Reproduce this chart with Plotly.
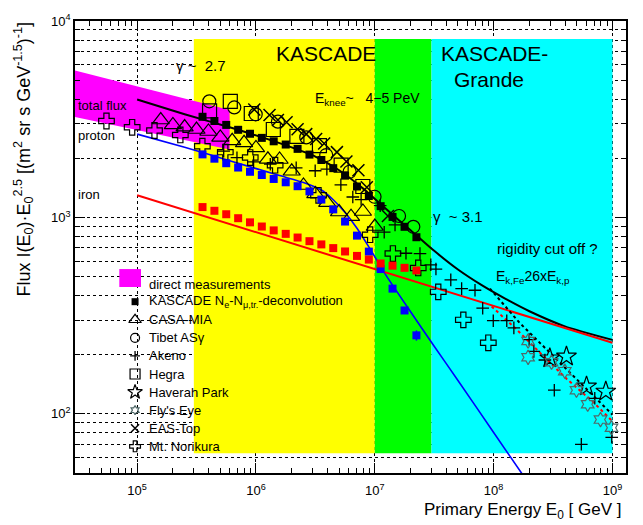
import math
import plotly.graph_objects as go

# ---------------------------------------------------------------------------
# Energies in GeV, fluxes multiplied by E^2.5  [(m^2 sr s GeV^-1.5)^-1]
# ---------------------------------------------------------------------------

# KASCADE Ne-Nmu unfolding (all particle, proton, iron)
kascade_E = [3.55e5, 4.47e5, 5.62e5, 7.08e5, 8.91e5, 1.12e6, 1.41e6, 1.78e6, 2.24e6, 2.82e6,
             3.55e6, 4.47e6, 5.62e6, 7.08e6, 8.91e6, 1.12e7, 1.41e7, 1.78e7, 2.24e7]
kascade_all = [3254, 3097, 2958, 2793, 2667, 2541, 2441, 2350, 2234, 2089,
               1961, 1782, 1632, 1437, 1285, 1141, 1006, 896, 793]
kascade_p = [2094, 1991, 1888, 1795, 1708, 1644, 1570, 1510, 1442, 1357,
             1233, 1099, 953, 808, 670, 546, 434, 336, 251]
kascade_p_err = [0] * 18 + [15]
kascade_fe = [1129, 1081, 1038, 991, 944, 899, 859, 825, 790, 757,
              729, 698, 671, 637, 610, 583, 568, 554, 537]

casa_E = [1.58e5, 2.0e5, 2.51e5, 3.16e5, 3.98e5, 5.01e5, 6.31e5, 7.94e5, 1.0e6, 1.26e6,
          1.58e6, 2.0e6, 2.51e6, 3.16e6, 3.98e6, 5.01e6, 6.31e6, 7.94e6, 1.0e7]
casa_F = [3133, 2958, 2884, 2803, 2739, 2556, 2455, 2399, 2259, 1977,
          1972, 1718, 1454, 1318, 1189, 1066, 1009, 1072, 899]

tibet_E = [4.05e5, 6.57e5, 9.95e5, 1.53e6, 2.65e6, 3.90e6, 6.14e6, 9.95e6, 1.60e7, 2.11e7]
tibet_F = [3899, 3631, 3350, 3073, 2556, 2078, 1708, 1274, 1017, 896]

hegra_E = [4.07e5, 6.08e5, 9.13e5, 1.40e6, 2.21e6, 3.42e6, 5.21e6, 7.93e6]
hegra_F = [3487, 3899, 3381, 2803, 2585, 2323, 1845, 1437]

eastop_E = [9.68e5, 1.30e6, 1.53e6, 1.81e6, 2.24e6, 2.65e6, 3.21e6, 3.75e6, 4.80e6,
            5.77e6, 7.28e6, 8.57e6, 1.29e7]
eastop_F = [3540, 3319, 3133, 3055, 2812, 2655, 2506, 2377, 2150, 1928, 1738, 1426, 1017]

akeno_E = [5.35e5, 6.92e5, 9.55e5, 1.32e6, 2.18e6, 3.15e6, 3.95e6, 5.18e6, 6.53e6, 7.67e6,
           1.11e7, 1.20e7, 1.48e7, 1.83e7, 2.40e7, 2.96e7, 3.27e7, 4.36e7, 5.38e7, 6.97e7,
           8.09e7, 9.93e7, 1.29e8, 1.48e8, 1.99e8, 2.18e8, 2.70e8, 3.24e8, 5.47e8, 7.10e8, 9.86e8]
akeno_F = [2176, 2014, 1917, 1866, 1788, 1728, 1762, 1466, 1271, 1233,
           1148, 841, 917, 657, 655, 574, 546, 481, 434, 426,
           345, 298, 298, 274, 239, 208, 188, 132, 70, 120, 76]

norikura_E = [5.52e4, 9.08e4, 1.40e5, 2.31e5, 3.54e5, 5.52e5, 8.95e5, 1.45e6, 3.36e6,
              9.14e6, 1.42e7, 2.32e7, 3.42e7, 5.56e7, 9.02e7]
norikura_F = [3097, 2877, 2770, 2630, 2304, 2150, 2018, 1845, 1296, 817, 655, 553, 418, 301, 230]

haverah_E = [2.97e8, 4.10e8, 6.05e8, 8.79e8]
haverah_F = [192, 196, 138, 130]

flyseye_E = [1.95e8, 1.95e8, 3.07e8, 3.97e8, 4.98e8, 6.19e8, 7.93e8, 9.82e8]
flyseye_F = [235, 194, 183, 165, 132, 112, 93.5, 85]

# direct measurements band (upper edge, then lower edge reversed)
direct_E = [3e4, 6e5, 6e5, 3e4, 3e4]
direct_F = [5590, 3520, 2220, 3250, 5590]

# model curves
total_E = [1.0e5, 2.51e5, 6.31e5, 1.58e6, 3.16e6, 5.01e6, 7.94e6, 1.26e7, 2.0e7, 3.16e7,
           5.01e7, 7.94e7, 1.26e8, 2.0e8, 3.98e8, 1.0e9]
total_F = [3981, 3350, 2851, 2388, 2042, 1738, 1406, 1096, 861, 676,
           543, 452, 385, 333, 279, 238]

proton_E = [1.0e5, 2.51e5, 6.31e5, 1.58e6, 2.51e6, 3.55e6, 4.47e6, 5.62e6, 7.08e6, 8.91e6,
            1.26e7, 2.0e7, 3.16e7, 5.01e7, 1.0e8, 1.78e8]
proton_F = [2655, 2275, 1928, 1633, 1507, 1380, 1230, 1059, 881, 708,
            501, 331, 221, 148, 80.4, 48.4]

iron_E = [1.0e5, 1.0e6, 1.0e7, 1.0e8, 1.0e9]
iron_F = [1296, 841, 546, 355, 230]

cutoff_all_E = [9.31e7, 1.66e8, 2.97e8, 4.98e8, 1.0e9]
cutoff_all_F = [434, 290, 205, 151, 99]
cutoff_fe_E = [9.62e7, 1.56e8, 2.45e8, 4.10e8, 6.87e8, 1.0e9]
cutoff_fe_F = [352, 269, 205, 151, 115, 91.7]

# experiment energy ranges
regions_E = [(3e5, 1e7), (1e7, 3e7), (3e7, 1e9)]
regions_col = ["#ffff00", "#00ff00", "#00ffff"]
region_F = (63, 8100)

FONT = "Liberation Sans, Arial, Helvetica, sans-serif"

# marker styles per experiment
styles = {
    "kascade": dict(symbol="square", color="black", size=8, line=dict(width=0)),
    "casa": dict(symbol="triangle-up-open", color="black", size=15, line=dict(width=1.2, color="black")),
    "tibet": dict(symbol="circle-open", color="black", size=13, line=dict(width=1.2, color="black")),
    "akeno": dict(symbol="cross-thin-open", color="black", size=9, line=dict(width=1.3, color="black")),
    "hegra": dict(symbol="square-open", color="black", size=14, line=dict(width=1.2, color="black")),
    "haverah": dict(symbol="star-open", color="black", size=15, line=dict(width=1.2, color="black")),
    "flyseye": dict(symbol="hexagram-open", color="#4f6868", size=11, line=dict(width=1.2, color="#4f6868")),
    "eastop": dict(symbol="x-thin-open", color="black", size=12, line=dict(width=1.5, color="black")),
    "norikura": dict(symbol="cross-open", color="black", size=13, line=dict(width=1.2, color="black")),
}

fig = go.Figure()

# shaded experiment ranges
for (e0, e1), col in zip(regions_E, regions_col):
    fig.add_trace(go.Scatter(x=[e0, e1, e1, e0, e0],
                             y=[region_F[0], region_F[0], region_F[1], region_F[1], region_F[0]],
                             mode="lines", fill="toself", fillcolor=col, line=dict(width=0),
                             hoverinfo="skip", showlegend=False))

# direct measurements
fig.add_trace(go.Scatter(x=direct_E, y=direct_F, mode="lines", fill="toself",
                         fillcolor="#ff00ff", line=dict(width=0), showlegend=False))

# model lines
fig.add_trace(go.Scatter(x=total_E, y=total_F, mode="lines",
                         line=dict(color="black", width=2, shape="spline", smoothing=0.6)))
fig.add_trace(go.Scatter(x=proton_E, y=proton_F, mode="lines",
                         line=dict(color="#0000ff", width=1.6, shape="spline", smoothing=0.6)))
fig.add_trace(go.Scatter(x=iron_E, y=iron_F, mode="lines", line=dict(color="#ff0000", width=2)))
fig.add_trace(go.Scatter(x=cutoff_all_E, y=cutoff_all_F, mode="lines",
                         line=dict(color="black", width=2, dash="dot")))
fig.add_trace(go.Scatter(x=cutoff_fe_E, y=cutoff_fe_F, mode="lines",
                         line=dict(color="#ff0000", width=2, dash="dot")))


def points(x, y, style, **kw):
    fig.add_trace(go.Scatter(x=x, y=y, mode="markers", marker=style, **kw))


points(casa_E, casa_F, styles["casa"])
points(tibet_E, tibet_F, styles["tibet"])
points(hegra_E, hegra_F, styles["hegra"])
points(eastop_E, eastop_F, styles["eastop"])
points(akeno_E, akeno_F, styles["akeno"])
points(norikura_E, norikura_F, styles["norikura"])
points(haverah_E, haverah_F, styles["haverah"])
points(flyseye_E, flyseye_F, styles["flyseye"])
points(kascade_E, kascade_all, styles["kascade"])
points(kascade_E, kascade_p, dict(styles["kascade"], color="#0000ff"),
       error_y=dict(type="data", array=kascade_p_err, color="#0000ff", thickness=1.5, width=0))
points(kascade_E, kascade_fe, dict(styles["kascade"], color="#ff0000"))

# ---------------------------------------------------------------------------
# hand-made legend on an overlay axis spanning the plot area (0..1)
# ---------------------------------------------------------------------------
legend_labels = [
    "KASCADE N<sub>e</sub>-N<sub>μ,tr.</sub>-deconvolution", "CASA-MIA", "Tibet ASγ", "Akeno",
    "Hegra", "Haverah Park", "Fly's Eye", "EAS-Top", "Mt. Norikura",
]
legend_keys = ["kascade", "casa", "tibet", "akeno", "hegra", "haverah", "flyseye", "eastop", "norikura"]
leg_x_marker, leg_x_text = 0.109, 0.130
leg_top, leg_step = 0.379, 0.0400

for i, (lab, key) in enumerate(zip(legend_labels, legend_keys)):
    yy = leg_top - i * leg_step
    st = dict(styles[key])
    st["size"] = max(7, st["size"] - 4)
    fig.add_trace(go.Scatter(x=[leg_x_marker], y=[yy], xaxis="x2", yaxis="y2",
                             mode="markers", marker=st))
    fig.add_annotation(xref="paper", yref="paper", x=leg_x_text, y=yy, text=lab,
                       showarrow=False, xanchor="left", yanchor="middle",
                       font=dict(size=13, color="black", family=FONT))

fig.add_shape(type="rect", xref="paper", yref="paper", x0=0.0804, x1=0.1198, y0=0.4115, y1=0.4512,
              fillcolor="#ff00ff", line_width=0, layer="above")
fig.add_annotation(xref="paper", yref="paper", x=leg_x_text, y=0.4171, text="direct measurements",
                   showarrow=False, xanchor="left", yanchor="middle",
                   font=dict(size=13, color="black", family=FONT))

# ---------------------------------------------------------------------------
# labels inside the plot
# ---------------------------------------------------------------------------
def label(x, y, text, size=14, xanchor="left"):
    fig.add_annotation(xref="paper", yref="paper", x=x, y=y, text=text, showarrow=False,
                       xanchor=xanchor, yanchor="middle",
                       font=dict(size=size, color="black", family=FONT))


label(0.180, 0.902, "γ ~  2.7", 15)
label(0.455, 0.928, "KASCADE", 21, "center")
label(0.660, 0.928, "KASCADE-", 21, "left")
label(0.684, 0.870, "Grande", 21, "left")
label(0.432, 0.827, "E<sub>knee</sub>~   4−5 PeV", 14)
label(0.647, 0.567, "γ  ~ 3.1", 15)
label(0.762, 0.496, "rigidity cut off ?", 15)
label(0.760, 0.433, "E<sub>k,Fe</sub>26xE<sub>k,p</sub>", 14)
label(0.002, 0.812, "total flux", 13)
label(0.002, 0.746, "proton", 13)
label(0.002, 0.616, "iron", 13)

# axis titles
fig.add_annotation(xref="paper", yref="paper", x=-0.093, y=1.004, textangle=-90,
                   text="Flux I(E<sub>0</sub>)·E<sub>0</sub><sup>2.5</sup> [(m<sup>2</sup> sr s GeV<sup>-1.5</sup>)<sup>-1</sup>]",
                   showarrow=False, xanchor="center", yanchor="top",
                   font=dict(size=18, color="black", family=FONT))
fig.add_annotation(xref="paper", yref="paper", x=0.995, y=-0.084,
                   text="Primary Energy E<sub>0</sub> [ GeV ]", showarrow=False,
                   xanchor="right", yanchor="middle",
                   font=dict(size=17, color="black", family=FONT))

x_ticks = [1e5, 1e6, 1e7, 1e8, 1e9]
x_ticktext = ["10<sup>5</sup>", "10<sup>6</sup>", "10<sup>7</sup>", "10<sup>8</sup>", "10<sup>9</sup>"]
x_minor = [k * 10 ** d for d in range(4, 9) for k in range(2, 10)]
y_ticks = [1e2, 1e3, 1e4]
y_ticktext = ["10<sup>2</sup>", "10<sup>3</sup>", "10<sup>4</sup>"]
y_minor = [k * 10 ** d for d in range(1, 4) for k in range(2, 10)]

fig.update_layout(
    width=643, height=525,
    margin=dict(l=75, r=17, t=12, b=52),
    paper_bgcolor="white", plot_bgcolor="white",
    showlegend=False,
    font=dict(family=FONT, color="black"),
    xaxis=dict(type="log", range=[math.log10(3e4), math.log10(1.3e9)],
               tickvals=x_ticks, ticktext=x_ticktext, ticks="inside", ticklen=10,
               tickcolor="black", tickfont=dict(size=13), ticklabelstandoff=5,
               showline=True, linecolor="black", linewidth=1.5, mirror="allticks",
               showgrid=True, gridcolor="black", griddash="dot", gridwidth=1,
               minor=dict(tickvals=x_minor, ticks="inside", ticklen=5, tickcolor="black",
                          showgrid=False),
               zeroline=False),
    yaxis=dict(type="log", range=[math.log10(50), 4.0],
               tickvals=y_ticks, ticktext=y_ticktext, ticks="inside", ticklen=10,
               tickcolor="black", tickfont=dict(size=13),
               showline=True, linecolor="black", linewidth=1.5, mirror="allticks",
               showgrid=True, gridcolor="black", griddash="dot", gridwidth=1,
               minor=dict(tickvals=y_minor, ticks="inside", ticklen=5, tickcolor="black",
                          showgrid=True, gridcolor="black", griddash="dot", gridwidth=1),
               zeroline=False),
    xaxis2=dict(overlaying="x", anchor="y2", range=[0, 1], visible=False, fixedrange=True),
    yaxis2=dict(overlaying="y", anchor="x2", range=[0, 1], visible=False, fixedrange=True),
)

fig.write_html("out.html")
